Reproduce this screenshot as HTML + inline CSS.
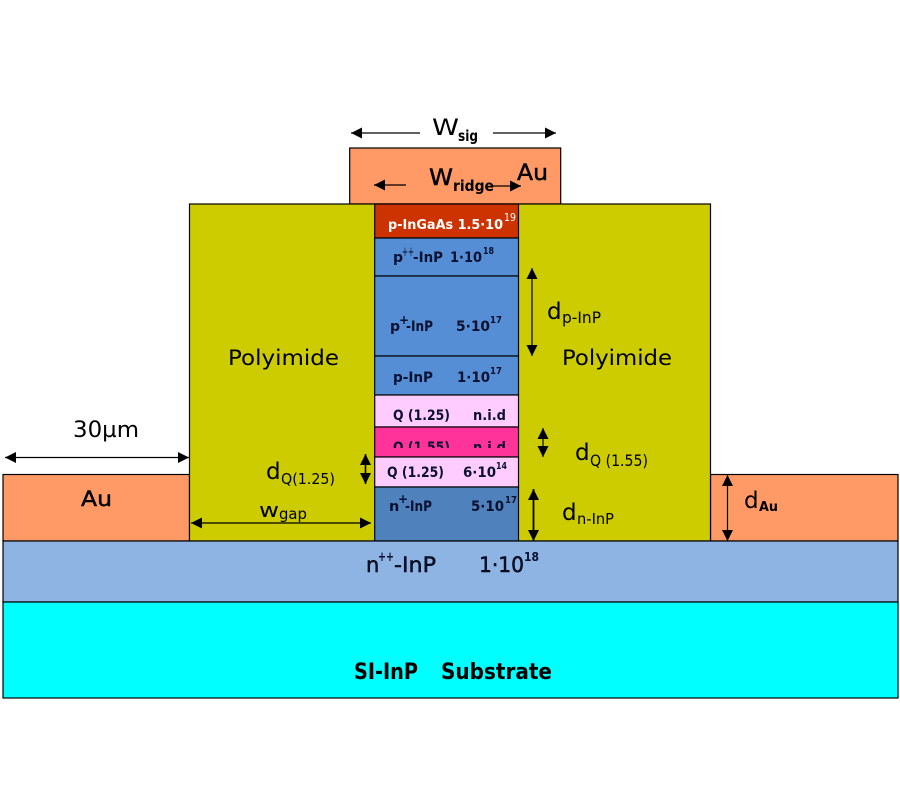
<!DOCTYPE html>
<html><head><meta charset="utf-8"><style>
html,body{margin:0;padding:0;background:#fff}
svg{display:block}
text{font-family:"DejaVu Sans","Liberation Sans",sans-serif;fill:#000}
.b{font-weight:bold}
.dk{fill:#0a1030}
.h{stroke:#000;stroke-width:.45}
</style></head><body>
<svg width="900" height="800" viewBox="0 0 900 800" xmlns="http://www.w3.org/2000/svg">
<defs>
<marker id="a" viewBox="0 0 10 10" refX="10" refY="5" markerWidth="11" markerHeight="11" markerUnits="userSpaceOnUse" orient="auto-start-reverse"><path d="M0,0L10,5L0,10Z" fill="#000"/></marker>
<clipPath id="c"><rect x="375" y="428" width="143" height="20"/></clipPath>
</defs>
<g stroke="#000" stroke-width="1.2">
<rect x="349.7" y="148" width="211" height="56" fill="#FF9966"/>
<rect x="3" y="474.5" width="186.5" height="66.5" fill="#FF9966"/>
<rect x="710.5" y="474.5" width="187.5" height="66.5" fill="#FF9966"/>
<rect x="189.5" y="204" width="521" height="337" fill="#CCCC00"/>
<rect x="374.7" y="204" width="143.8" height="34" fill="#CC3300"/>
<rect x="374.7" y="238" width="143.8" height="38" fill="#558ED5"/>
<rect x="374.7" y="276" width="143.8" height="80" fill="#558ED5"/>
<rect x="374.7" y="356" width="143.8" height="39" fill="#558ED5"/>
<rect x="374.7" y="395" width="143.8" height="32" fill="#FFCCFF"/>
<rect x="374.7" y="427" width="143.8" height="30" fill="#FF3399"/>
<rect x="374.7" y="457" width="143.8" height="30" fill="#FFCCFF"/>
<rect x="374.7" y="487" width="143.8" height="54" fill="#4F81BD"/>
<rect x="3" y="541" width="895" height="61" fill="#8EB4E3"/>
<rect x="3" y="602" width="895" height="96" fill="#00FFFF"/>
</g>
<g stroke="#000" stroke-width="1.2" fill="none">
<line x1="420" y1="133" x2="351" y2="133" marker-end="url(#a)"/>
<line x1="493" y1="133" x2="556" y2="133" marker-end="url(#a)"/>
<line x1="406" y1="185" x2="374" y2="185" marker-end="url(#a)"/>
<line x1="491" y1="186" x2="521" y2="186" marker-end="url(#a)"/>
<line x1="532" y1="268" x2="532" y2="356" marker-start="url(#a)" marker-end="url(#a)"/>
<line x1="543" y1="428" x2="543" y2="457" marker-start="url(#a)" marker-end="url(#a)"/>
<line x1="533.5" y1="489" x2="533.5" y2="541" stroke-width="1.8" marker-start="url(#a)" marker-end="url(#a)"/>
<line x1="365.5" y1="454" x2="365.5" y2="484" stroke-width="1.6" marker-start="url(#a)" marker-end="url(#a)"/>
<line x1="5" y1="457.5" x2="189" y2="457.5" marker-start="url(#a)" marker-end="url(#a)"/>
<line x1="191" y1="523" x2="371" y2="523" marker-start="url(#a)" marker-end="url(#a)"/>
<line x1="727.5" y1="475" x2="727.5" y2="541" marker-start="url(#a)" marker-end="url(#a)"/>
</g>

<text x="432" y="135" font-size="22" textLength="27" lengthAdjust="spacingAndGlyphs">W</text>
<text x="458" y="141" font-size="15" class="b" textLength="20" lengthAdjust="spacingAndGlyphs">sig</text>
<text x="429" y="185" font-size="22" class="h" textLength="24" lengthAdjust="spacingAndGlyphs">W</text>
<text x="453" y="191" font-size="15" class="b" textLength="41" lengthAdjust="spacingAndGlyphs">ridge</text>
<text x="517" y="180" font-size="22" class="h" textLength="31" lengthAdjust="spacingAndGlyphs">Au</text>

<text x="228" y="365" font-size="21" textLength="111" lengthAdjust="spacingAndGlyphs">Polyimide</text>
<text x="562" y="365" font-size="21" textLength="110" lengthAdjust="spacingAndGlyphs">Polyimide</text>

<text x="388" y="229" font-size="13.5" class="b" style="fill:#fff" textLength="115" lengthAdjust="spacingAndGlyphs">p-InGaAs 1.5·10</text>
<text x="504" y="221" font-size="11" style="fill:#fff" textLength="12" lengthAdjust="spacingAndGlyphs">19</text>

<text x="393" y="262" font-size="14" class="b dk">p</text>
<text x="402" y="256" font-size="13" class="dk" textLength="12" lengthAdjust="spacingAndGlyphs">++</text>
<text x="413" y="262" font-size="14" class="b dk" textLength="30" lengthAdjust="spacingAndGlyphs">-InP</text>
<text x="450" y="262" font-size="14" class="b dk" textLength="32" lengthAdjust="spacingAndGlyphs">1·10</text>
<text x="483" y="254" font-size="9.5" class="b dk" textLength="11" lengthAdjust="spacingAndGlyphs">18</text>

<text x="390" y="331" font-size="14" class="b dk">p</text>
<text x="399" y="324" font-size="12" class="b dk">+</text>
<text x="406" y="331" font-size="14" class="b dk" textLength="27" lengthAdjust="spacingAndGlyphs">-InP</text>
<text x="456" y="331" font-size="14" class="b dk" textLength="34" lengthAdjust="spacingAndGlyphs">5·10</text>
<text x="490" y="323" font-size="10" class="b dk" textLength="12" lengthAdjust="spacingAndGlyphs">17</text>

<text x="393" y="382" font-size="14" class="b dk" textLength="40" lengthAdjust="spacingAndGlyphs">p-InP</text>
<text x="457" y="382" font-size="14" class="b dk" textLength="33" lengthAdjust="spacingAndGlyphs">1·10</text>
<text x="490" y="374" font-size="10" class="b dk" textLength="12" lengthAdjust="spacingAndGlyphs">17</text>

<text x="393" y="420" font-size="14" class="b dk" textLength="57" lengthAdjust="spacingAndGlyphs">Q (1.25)</text>
<text x="473" y="420" font-size="14" class="b dk" textLength="33" lengthAdjust="spacingAndGlyphs">n.i.d</text>

<g clip-path="url(#c)">
<text x="393" y="452" font-size="14" class="b dk" textLength="57" lengthAdjust="spacingAndGlyphs">Q (1.55)</text>
<text x="473" y="452" font-size="14" class="b dk" textLength="33" lengthAdjust="spacingAndGlyphs">n.i.d</text>
</g>

<text x="387" y="477" font-size="14.5" class="b dk" textLength="57" lengthAdjust="spacingAndGlyphs">Q (1.25)</text>
<text x="463" y="477" font-size="14.5" class="b dk" textLength="33" lengthAdjust="spacingAndGlyphs">6·10</text>
<text x="496" y="469" font-size="9.5" class="b dk" textLength="11" lengthAdjust="spacingAndGlyphs">14</text>

<text x="389" y="511" font-size="14.5" class="b dk">n</text>
<text x="398" y="503" font-size="12" class="b dk">+</text>
<text x="405" y="511" font-size="14" class="b dk" textLength="27" lengthAdjust="spacingAndGlyphs">-InP</text>
<text x="471" y="511" font-size="14" class="b dk" textLength="33" lengthAdjust="spacingAndGlyphs">5·10</text>
<text x="505" y="503" font-size="10" class="b dk" textLength="12" lengthAdjust="spacingAndGlyphs">17</text>

<text x="547" y="319" font-size="23">d</text>
<text x="562" y="323" font-size="16" textLength="39" lengthAdjust="spacingAndGlyphs">p-InP</text>
<text x="575" y="460" font-size="23">d</text>
<text x="590" y="466" font-size="16" textLength="58" lengthAdjust="spacingAndGlyphs">Q (1.55)</text>
<text x="562" y="520" font-size="23">d</text>
<text x="577" y="524" font-size="15" textLength="37" lengthAdjust="spacingAndGlyphs">n-InP</text>
<text x="744" y="508" font-size="23">d</text>
<text x="759" y="511" font-size="13" class="b" textLength="19" lengthAdjust="spacingAndGlyphs">Au</text>
<text x="266" y="479" font-size="23">d</text>
<text x="281" y="484" font-size="15" textLength="54" lengthAdjust="spacingAndGlyphs">Q(1.25)</text>
<text x="259" y="517" font-size="20" textLength="20" lengthAdjust="spacingAndGlyphs">w</text>
<text x="279" y="519" font-size="15" textLength="28" lengthAdjust="spacingAndGlyphs">gap</text>
<text x="73" y="437" font-size="22" textLength="66" lengthAdjust="spacingAndGlyphs">30µm</text>
<text x="81" y="506" font-size="21" class="h" textLength="31" lengthAdjust="spacingAndGlyphs">Au</text>

<text x="366" y="572" font-size="21" class="dk h">n</text>
<text x="378" y="561" font-size="13" class="b dk" textLength="16" lengthAdjust="spacingAndGlyphs">++</text>
<text x="394" y="572" font-size="21" class="dk h" textLength="42" lengthAdjust="spacingAndGlyphs">-InP</text>
<text x="479" y="572" font-size="21" class="dk h" textLength="45" lengthAdjust="spacingAndGlyphs">1·10</text>
<text x="524" y="561" font-size="12" class="b dk" textLength="15" lengthAdjust="spacingAndGlyphs">18</text>

<text x="354" y="679" font-size="22" class="b" textLength="64" lengthAdjust="spacingAndGlyphs">SI-InP</text>
<text x="441" y="679" font-size="22" class="b" textLength="111" lengthAdjust="spacingAndGlyphs">Substrate</text>
</svg>
</body></html>
